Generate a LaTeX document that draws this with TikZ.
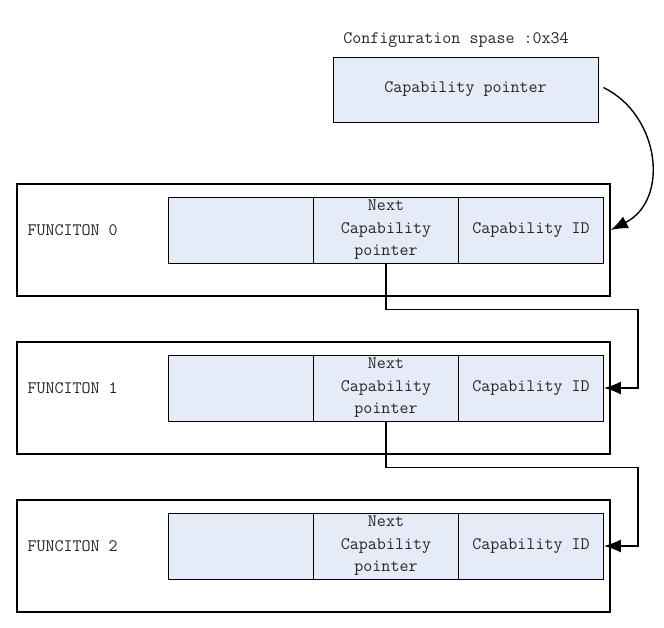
\documentclass[tikz,border=0pt]{standalone}
\usepackage{tikz}
\usetikzlibrary{arrows.meta,positioning}

\definecolor{cellblue}{RGB}{230,236,247}

\tikzset{
  txt/.style={font=\fontsize{17.5}{22.5}\selectfont\ttfamily, text=black!85},
  frame/.style={draw, line width=1.5pt, minimum width=593pt, minimum height=112pt},
  cell/.style={draw, fill=cellblue, line width=0.8pt, minimum width=145pt, minimum height=66pt, inner sep=0pt, txt, align=center},
  link/.style={line width=1.4pt, -{Latex[length=17pt,width=13pt]}}
}

\begin{document}
\begin{tikzpicture}[x=1pt,y=-1pt]
    \useasboundingbox (0,0) rectangle (664,627);

    % configuration space pointer
    \node[txt] (cfglabel) at (456,40) {Configuration spase :0x34};
    \node[cell, minimum width=265pt, minimum height=65pt] (capptr) at (465.5,89.5) {Capability pointer};

    % the three functions
    \foreach \i in {0,1,2} {
        \node[frame] (frame\i) at (313.5,240+158*\i) {};
        \node[txt, anchor=west] (fname\i) at (24,230+158*\i) {FUNCITON \i};
        \node[cell] (empty\i) at (241,230+158*\i) {};
        \node[cell] (next\i) at (386,230+158*\i) {Next\\Capability\\pointer};
        \node[cell] (capid\i) at (531,230+158*\i) {Capability ID};
    }

    \draw[link] ([xshift=5pt,yshift=2pt]capptr.east) .. controls (660,115) and (670,200) .. (frame0.east |- capid0.east);

    \foreach \from/\to in {0/1,1/2}
        \draw[link] (next\from.south) -- ++(0,46) -| ([xshift=34pt]capid\to.east) -- (capid\to.east);
\end{tikzpicture}
\end{document}
